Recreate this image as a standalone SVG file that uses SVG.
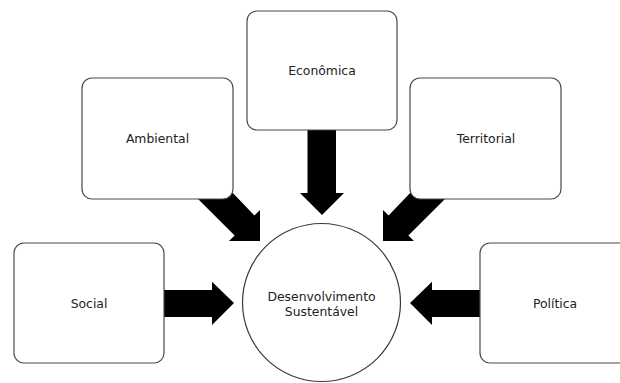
<svg xmlns="http://www.w3.org/2000/svg" width="620" height="383" viewBox="0 0 620 383">
<style>
.box{fill:#fff;stroke:#4a4a4a;stroke-width:1.2}
.circ{fill:#fff;stroke:#3a3a3a;stroke-width:1.2}
.arrow{fill:#000;stroke:none}
text{font-family:"DejaVu Sans","Liberation Sans",sans-serif;font-size:12.4px;fill:#222;text-anchor:middle}
</style>
<rect width="620" height="383" fill="#fff"/>
<g id="connectors">
<polygon class="arrow" points="307.5,125 336,125 336,193 344,193 322,215 300,193 307.5,193"/>
<polygon class="arrow" points="160,290 212,290 212,281.7 234,303 212,325 212,317 160,317"/>
<polygon class="arrow" points="484,290 432,290 432,281.7 410,303 432,325 432,317 484,317"/>
<polygon class="arrow" points="195,196 230,190 254.4,215.6 260,210 260,241 229,241 234.6,235.4"/>
<polygon class="arrow" points="448,196 413,190 388.6,215.6 383,210 383,241 414,241 408.4,235.4"/>
</g>
<g id="economica"><rect class="box" x="247" y="11" width="150" height="119" rx="10"/><text x="322" y="74.5">Econômica</text></g>
<g id="ambiental"><rect class="box" x="82" y="78" width="151" height="121" rx="10"/><text x="157.5" y="142.5">Ambiental</text></g>
<g id="territorial"><rect class="box" x="410" y="78" width="151" height="121" rx="10"/><text x="486" y="142.5">Territorial</text></g>
<g id="social"><rect class="box" x="14" y="243" width="150" height="120" rx="10"/><text x="89" y="307.5">Social</text></g>
<g id="politica"><rect class="box" x="480" y="243" width="150" height="120" rx="10"/><text x="555" y="307.5">Política</text></g>
<g id="desenvolvimento"><circle class="circ" cx="321.5" cy="302.5" r="79"/><text x="321.5" y="301">Desenvolvimento</text><text x="321.5" y="315.5">Sustentável</text></g>
</svg>
